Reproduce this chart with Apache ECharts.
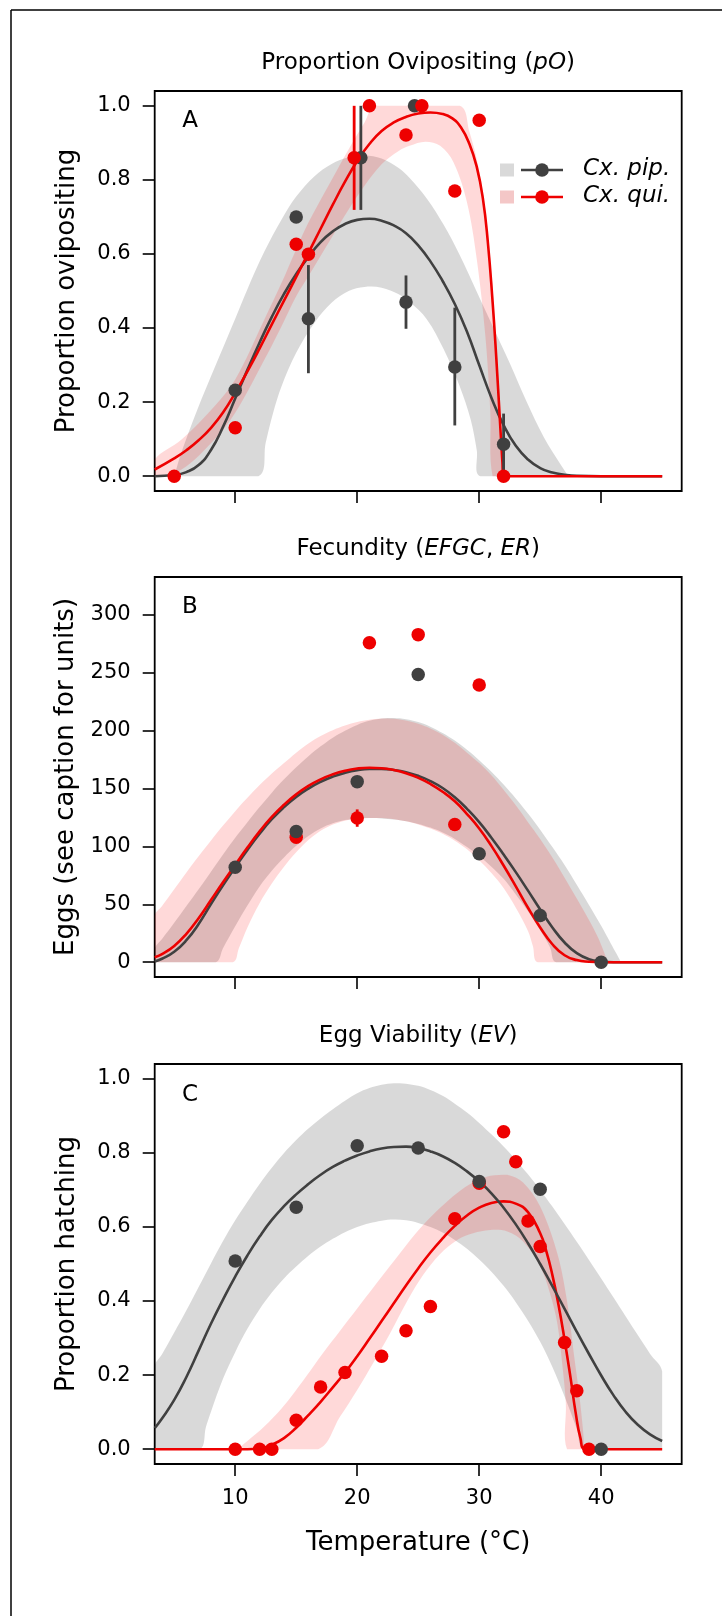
<!DOCTYPE html>
<html>
<head>
<meta charset="utf-8">
<script src="https://cdn.jsdelivr.net/npm/echarts@6/dist/echarts.min.js"></script>
<style>
  html, body { margin: 0; padding: 0; background: #ffffff; }
  #chart { width: 722px; height: 1616px; }
</style>
</head>
<body>
<div id="chart"></div>
<script>
// Thermal performance of two Culex species: oviposition, fecundity, egg viability.

// ---- axis ticks ----
const xTicks = [10, 20, 30, 40];
const propTicks = [0, 0.2, 0.4, 0.6, 0.8, 1];
const eggTicks = [0, 50, 100, 150, 200, 250, 300];

// ---- Panel A: proportion ovipositing ----
const pipObsA = [[10,0.232],[15,0.70],[16,0.425],[20.3,0.86],[24,0.47],[24.7,1.0],[28,0.295],[32,0.086]];
const quiObsA = [[5,0],[10,0.131],[15,0.626],[16,0.599],[19.75,0.86],[21,1.0],[24,0.921],[25.3,1.0],[28,0.77],[30,0.961],[32,0]];
const pipErrA = [[16,0.278,0.570],[20.3,0.719,1.0],[24,0.398,0.542],[28,0.137,0.455],[32,0,0.169]];
const quiErrA = [[19.75,0.719,1.0]];
const pipFitA = [[3.4,0],[5,0.003],[6,0.011],[7,0.03],[8,0.07],[9,0.133],[10,0.21],[11,0.287],[12,0.361],[13,0.43],[14,0.492],[15,0.546],[16,0.592],[17,0.632],[18,0.661],[19,0.681],[20,0.692],[21,0.695],[22,0.69],[23,0.677],[24,0.656],[25,0.623],[26,0.58],[27,0.527],[28,0.465],[29,0.39],[30,0.3],[31,0.212],[32,0.138],[33,0.082],[34,0.045],[35,0.022],[36,0.01],[37,0.004],[38,0.001],[40,0],[45,0]];
const quiFitA = [[3.4,0.018],[5,0.048],[6,0.07],[7,0.097],[8,0.13],[9,0.172],[10,0.225],[11,0.283],[12,0.345],[13,0.41],[14,0.474],[15,0.538],[16,0.603],[17,0.668],[18,0.733],[19,0.795],[20,0.851],[21,0.897],[22,0.932],[23,0.955],[24,0.97],[25,0.979],[26,0.982],[27,0.978],[27.8,0.966],[28.5,0.942],[29.2,0.897],[29.8,0.835],[30.3,0.75],[30.7,0.635],[31.1,0.47],[31.4,0.32],[31.7,0.15],[31.9,0.04],[32,0],[45,0]];
const pipBandA_hi = [[5,0],[5.6,0.065],[6.9,0.18],[8.3,0.292],[10,0.425],[11,0.505],[12.4,0.607],[13.8,0.693],[15,0.755],[16.5,0.81],[17.9,0.843],[19.3,0.861],[20.6,0.866],[22,0.858],[23.4,0.832],[24.3,0.805],[25.7,0.75],[27.1,0.678],[28.4,0.597],[29.8,0.498],[31.2,0.398],[32.6,0.298],[33.9,0.2],[35.3,0.105],[36.7,0.03],[37.3,0]];
const pipBandA_lo = [[5,0],[11.9,0],[12.5,0.09],[13.1,0.17],[13.8,0.243],[15,0.333],[16.5,0.414],[17.9,0.468],[19.3,0.50],[20.6,0.511],[22,0.509],[23.4,0.491],[24.3,0.47],[25.7,0.424],[27.1,0.342],[28.4,0.243],[29.3,0.153],[29.8,0.07],[30.1,0],[37.3,0]];
const quiBandA_hi = [[3.4,0.045],[5.6,0.099],[8.3,0.189],[10,0.261],[12.4,0.424],[13.8,0.522],[15,0.613],[16,0.685],[17.9,0.80],[19.3,0.883],[20.6,0.955],[21.5,1.0],[28.4,1.0],[29.2,0.93],[29.9,0.84],[30.5,0.72],[31,0.55],[31.45,0.33],[31.8,0.12],[32.05,0]];
const quiBandA_lo = [[3.4,0],[5.6,0.018],[8.3,0.099],[10,0.171],[12.4,0.315],[13.8,0.405],[15,0.486],[16,0.54],[17.9,0.644],[19.3,0.72],[20.6,0.784],[22,0.842],[23.4,0.878],[24.3,0.892],[25.6,0.903],[26.8,0.892],[27.9,0.847],[29,0.739],[29.8,0.586],[30.5,0.38],[30.9,0.18],[31.1,0]];

// ---- Panel B: fecundity ----
const pipObsB = [[10,82],[15,113],[20,156],[25,248.5],[30,93.7],[35,40.4],[40,0]];
const quiObsB = [[15,108],[20,124.6],[21,276],[25,283],[28,119],[30,239.4]];
const quiErrB = [[20,117,132]];
const pipFitB = [[3.4,0.6],[4,3],[5,9],[6,19],[7,33],[8,50],[9,66.5],[10,82],[11,97],[12,111],[13,123.5],[14,134],[15,142.8],[16,150],[17,155.8],[18,160.3],[19,163.6],[20,165.8],[21,166.9],[22,167],[23,166.1],[24,164.2],[25,161],[26,156.5],[27,150.5],[28,142.5],[29,132.5],[30,121],[31,107.5],[32,93],[33,77.8],[34,61.8],[35,45.5],[36,30],[37,17],[38,7.8],[39,2.6],[40,0.6],[41,0],[45,0]];
const quiFitB = [[3.4,4.3],[4,7],[5,14],[6,24.5],[7,38],[8,53.5],[9,69],[10,84],[11,99],[12,113],[13,125.5],[14,136],[15,145],[16,152.3],[17,158],[18,162.3],[19,165.4],[20,167.3],[21,168],[22,167.6],[23,166],[24,163.3],[25,159.3],[26,154],[27,147.3],[28,139],[29,128],[30,115.5],[31,100.5],[32,83.5],[33,65.5],[34,47],[35,30],[36,15.5],[37,6],[38,1.8],[39,0.4],[40,0],[45,0]];
const pipBandB_hi = [[3.4,12],[4,20],[5,34],[6,48.5],[7,63],[8,78],[9,93],[10,107.5],[11,121],[12,134],[13,146.5],[14,158],[15,168.5],[16,178],[17,186.5],[18,194],[19,200],[20,205],[21,208.5],[22,210.5],[23,211],[24,210],[25,207.5],[26,203.5],[27,198],[28,191.5],[29,183.5],[30,174.5],[31,164.5],[32,153.5],[33,141.5],[34,128.5],[35,114.5],[36,99.5],[37,84],[38,67],[39,49.5],[40,31.5],[40.8,16],[41.6,0]];
const pipBandB_lo = [[3.4,0],[8.4,0],[9,12],[10,31],[11,49],[12,65.5],[13,79],[14,90.5],[15,100.5],[16,109],[17,115.5],[18,120],[19,122.8],[20,124],[21,124.5],[22,124.2],[23,123.3],[24,121.8],[25,119.5],[26,116.3],[27,112],[28,106.5],[29,99.5],[30,91.5],[31,82.5],[32,72],[33,58.5],[34,44],[35,27.5],[35.8,13],[36.3,0]];
const quiBandB_hi = [[3.4,40],[4,48.5],[5,63],[6,77.5],[7,91.5],[8,105],[9,118],[10,130.5],[11,142],[12,153],[13,163],[14,172],[15,181],[16,189],[17,195.5],[18,200.5],[19,204.5],[20,207.5],[21,209.5],[22,210.5],[23,210.3],[24,208.8],[25,206],[26,202],[27,196.5],[28,189.5],[29,181],[30,172],[31,161.5],[32,149],[33,135.5],[34,121],[35,106.5],[36,90.5],[37,73],[38,55],[39,36.5],[39.8,20],[40.5,0]];
const quiBandB_lo = [[3.4,0],[9.8,0],[10.3,12],[11,30],[12,51],[13,68],[14,82.5],[15,95],[16,105.5],[17,113.5],[18,119],[19,122.3],[20,124],[21,124.6],[22,124.5],[23,123.5],[24,121.7],[25,119],[26,115.5],[27,111],[28,105],[29,97.5],[30,88],[31,77],[32,64],[33,47],[34,27],[34.4,14],[34.8,0]];

// ---- Panel C: egg viability ----
const pipObsC = [[10,0.508],[15,0.653],[20,0.819],[25,0.813],[30,0.723],[35,0.702],[40,0]];
const quiObsC = [[10,0],[12,0],[13,0],[15,0.078],[17,0.168],[19,0.207],[22,0.251],[24,0.32],[26,0.385],[28,0.622],[30,0.718],[32,0.857],[33,0.776],[34,0.616],[35,0.547],[37,0.288],[38,0.158],[39,0]];
const pipFitC = [[3.4,0.057],[4,0.083],[5,0.133],[6,0.195],[7,0.266],[8,0.338],[9,0.404],[10,0.466],[11,0.523],[12,0.574],[13,0.619],[14,0.656],[15,0.688],[16,0.716],[17,0.741],[18,0.762],[19,0.779],[20,0.793],[21,0.804],[22,0.812],[23,0.816],[24,0.817],[25,0.813],[26,0.804],[27,0.791],[28,0.773],[29,0.75],[30,0.723],[31,0.691],[32,0.652],[33,0.607],[34,0.556],[35,0.5],[36,0.44],[37,0.379],[38,0.317],[39,0.257],[40,0.199],[41,0.146],[42,0.101],[43,0.066],[44,0.04],[45,0.022]];
const quiFitC = [[3.4,0],[11,0],[12,0.002],[13,0.012],[14,0.03],[15,0.058],[16,0.092],[17,0.128],[18,0.167],[19,0.207],[20,0.251],[21,0.298],[22,0.346],[23,0.394],[24,0.442],[25,0.488],[26,0.531],[27,0.569],[28,0.603],[29,0.631],[30,0.652],[31,0.665],[32,0.669],[33,0.663],[34,0.64],[35,0.583],[35.5,0.535],[36,0.47],[36.5,0.39],[37,0.295],[37.5,0.19],[37.9,0.1],[38.3,0.03],[38.7,0],[45,0]];
const pipBandC_hi = [[3.4,0.223],[4,0.256],[5,0.315],[6,0.375],[7,0.438],[8,0.501],[9,0.562],[10,0.618],[11,0.668],[12,0.716],[13,0.76],[14,0.8],[15,0.835],[16,0.866],[17,0.893],[18,0.918],[19,0.941],[20,0.961],[21,0.975],[22,0.984],[23,0.988],[24,0.987],[25,0.981],[26,0.97],[27,0.954],[28,0.933],[29,0.909],[30,0.881],[31,0.85],[32,0.817],[33,0.781],[34,0.742],[35,0.7],[36,0.655],[37,0.608],[38,0.56],[39,0.511],[40,0.461],[41,0.41],[42,0.359],[43,0.308],[44,0.258],[45,0.21]];
const pipBandC_lo = [[3.4,0],[7.1,0],[7.6,0.06],[8,0.1],[9,0.19],[10,0.262],[11,0.325],[12,0.378],[13,0.423],[14,0.461],[15,0.493],[16,0.522],[17,0.547],[18,0.568],[19,0.586],[20,0.6],[21,0.61],[22,0.617],[23,0.62],[24,0.618],[25,0.611],[26,0.6],[27,0.585],[28,0.565],[29,0.541],[30,0.512],[31,0.479],[32,0.441],[33,0.397],[34,0.347],[35,0.29],[36,0.222],[37,0.142],[38,0.055],[38.6,0],[45,0]];
const quiBandC_hi = [[10.2,0],[11,0.022],[12.4,0.062],[13.8,0.11],[14.5,0.138],[15.9,0.2],[17.2,0.26],[18.6,0.32],[20,0.38],[21.4,0.44],[22.7,0.495],[24,0.55],[25.4,0.605],[26.8,0.652],[28.2,0.692],[29.5,0.72],[30.9,0.738],[32.3,0.741],[33.6,0.72],[35,0.655],[36.4,0.529],[37.2,0.4],[37.75,0.26],[38.3,0.12],[38.6,0]];
const quiBandC_lo = [[10.2,0],[16.8,0],[18.6,0.088],[20,0.16],[21.3,0.232],[22.7,0.313],[24.1,0.4],[25.4,0.47],[26.8,0.527],[28.2,0.565],[29.5,0.583],[30.9,0.592],[32.3,0.588],[33.6,0.561],[35,0.493],[35.8,0.421],[36.4,0.34],[36.8,0.232],[37.1,0.124],[37.2,0]];

// ---- styling ----
const FONT = 'DejaVu Sans';
const INK = '#404040';
const RED = '#ee0000';
const GRAY_FILL = 'rgba(0,0,0,0.15)';
const PINK_FILL = 'rgba(255,0,0,0.15)';
const PLOT_LEFT = 154.7, PLOT_W = 527, PLOT_H = 400;
const PANEL_TOPS = [91, 577, 1064];
const PLOT_CX = PLOT_LEFT + PLOT_W / 2;

const chart = echarts.init(document.getElementById('chart'), null, { renderer: 'canvas' });

// Credible band: upper edge left->right, then lower edge right->left, as one filled polygon.
function bandSeries(g, upper, lower, fill, z) {
  return {
    type: 'custom', xAxisIndex: g, yAxisIndex: g, clip: true, silent: true, z: z,
    data: [upper[0]],
    renderItem: function (params, api) {
      const pts = upper.concat(lower.slice().reverse()).map(p => api.coord(p));
      return { type: 'polygon',
               shape: { points: pts, smooth: 0.35, smoothConstraint: [pts[0], pts[0]] },
               style: { fill: fill, stroke: null } };
    }
  };
}
function fitSeries(g, data, color, z) {
  return { type: 'line', xAxisIndex: g, yAxisIndex: g, data: data, showSymbol: false,
           smooth: 0.5, clip: true, silent: true, z: z,
           lineStyle: { color: color, width: 2.6 } };
}
function errSeries(g, bars, color, z) {
  return {
    type: 'custom', xAxisIndex: g, yAxisIndex: g, clip: true, silent: true, z: z, data: bars,
    renderItem: function (params, api) {
      const a = api.coord([api.value(0), api.value(1)]);
      const b = api.coord([api.value(0), api.value(2)]);
      return { type: 'line', shape: { x1: a[0], y1: a[1], x2: b[0], y2: b[1] },
               style: { stroke: color, lineWidth: 2.8 } };
    }
  };
}
function pointSeries(g, data, color, z) {
  return { type: 'scatter', xAxisIndex: g, yAxisIndex: g, data: data, symbolSize: 13.5,
           silent: true, z: z, itemStyle: { color: color, opacity: 1 } };
}

const tickLine = { color: '#000', width: 1.6 };
const labelFont = { color: '#000', fontFamily: FONT, fontSize: 21 };

function yAxisFor(g, min, max, ticks, fmt, name) {
  return {
    type: 'value', gridIndex: g, min: min, max: max,
    axisLine: { show: false, onZero: false }, splitLine: { show: false },
    axisTick: { show: true, customValues: ticks, length: 12, lineStyle: tickLine },
    axisLabel: Object.assign({ customValues: ticks, margin: 24, formatter: fmt }, labelFont),
    name: name, nameLocation: 'middle', nameGap: 74,
    nameTextStyle: { color: '#000', fontFamily: FONT, fontSize: 26 }
  };
}

const richTitle = {
  n: { fontFamily: FONT, fontSize: 23, color: '#000' },
  i: { fontFamily: FONT, fontSize: 23, fontStyle: 'italic', color: '#000' }
};
function titleText(y, text) {
  return { type: 'text', x: PLOT_CX, y: y, silent: true,
           style: { text: text, rich: richTitle, align: 'center', verticalAlign: 'middle' } };
}
function panelLetter(y, t) {
  return { type: 'text', x: 190, y: y, silent: true,
           style: { text: t, fontFamily: FONT, fontSize: 23, fill: '#000', align: 'center', verticalAlign: 'middle' } };
}
function legendRow(y, boxFill, color, label) {
  return [
    { type: 'rect', shape: { x: 500, y: y - 6.5, width: 14, height: 13 }, style: { fill: boxFill }, silent: true },
    { type: 'line', shape: { x1: 521, y1: y, x2: 563, y2: y }, style: { stroke: color, lineWidth: 2.6 }, silent: true },
    { type: 'circle', shape: { cx: 542, cy: y, r: 6.8 }, style: { fill: color }, silent: true },
    { type: 'text', x: 583, y: y - 1, silent: true,
      style: { text: label, fontFamily: FONT, fontStyle: 'italic', fontSize: 23, fill: '#000',
               align: 'left', verticalAlign: 'middle' } }
  ];
}

const fmt1 = v => v.toFixed(1);
const fmt0 = v => String(v);

const option = {
  animation: false,
  backgroundColor: '#ffffff',
  grid: PANEL_TOPS.map(t => ({
    left: PLOT_LEFT, top: t, width: PLOT_W, height: PLOT_H, containLabel: false,
    outerBoundsMode: 'none',
    show: true, borderColor: '#000', borderWidth: 1.8, backgroundColor: 'transparent'
  })),
  xAxis: [0, 1, 2].map(g => ({
    type: 'value', gridIndex: g, min: 3.4, max: 46.6,
    axisLine: { show: false, onZero: false }, splitLine: { show: false },
    axisTick: { show: true, customValues: xTicks, length: 12, lineStyle: tickLine },
    axisLabel: Object.assign({ show: g === 2, customValues: xTicks, margin: 24 }, labelFont)
  })),
  yAxis: [
    yAxisFor(0, -0.04, 1.04, propTicks, fmt1, 'Proportion ovipositing'),
    yAxisFor(1, -12.8, 332.8, eggTicks, fmt0, 'Eggs (see caption for units)'),
    yAxisFor(2, -0.04, 1.04, propTicks, fmt1, 'Proportion hatching')
  ],
  series: [
    // Panel A
    bandSeries(0, pipBandA_hi, pipBandA_lo, GRAY_FILL, 1),
    bandSeries(0, quiBandA_hi, quiBandA_lo, PINK_FILL, 2),
    fitSeries(0, pipFitA, INK, 3),
    fitSeries(0, quiFitA, RED, 4),
    errSeries(0, pipErrA, INK, 5),
    errSeries(0, quiErrA, RED, 5),
    pointSeries(0, pipObsA, INK, 6),
    pointSeries(0, quiObsA, RED, 7),
    // Panel B
    bandSeries(1, pipBandB_hi, pipBandB_lo, GRAY_FILL, 1),
    bandSeries(1, quiBandB_hi, quiBandB_lo, PINK_FILL, 2),
    fitSeries(1, pipFitB, INK, 3),
    fitSeries(1, quiFitB, RED, 4),
    errSeries(1, quiErrB, RED, 5),
    pointSeries(1, quiObsB, RED, 6),
    pointSeries(1, pipObsB, INK, 7),
    // Panel C
    bandSeries(2, pipBandC_hi, pipBandC_lo, GRAY_FILL, 1),
    bandSeries(2, quiBandC_hi, quiBandC_lo, PINK_FILL, 2),
    fitSeries(2, quiFitC, RED, 3),
    fitSeries(2, pipFitC, INK, 4),
    pointSeries(2, quiObsC, RED, 6),
    pointSeries(2, pipObsC, INK, 7)
  ],
  graphic: [
    // figure frame
    { type: 'line', shape: { x1: 11, y1: 10, x2: 722, y2: 10 }, style: { stroke: '#000', lineWidth: 1.5 }, silent: true },
    { type: 'line', shape: { x1: 11, y1: 10, x2: 11, y2: 1616 }, style: { stroke: '#000', lineWidth: 1.5 }, silent: true },
    titleText(63.5, '{n|Proportion Ovipositing (}{i|pO}{n|)}'),
    titleText(549.5, '{n|Fecundity (}{i|EFGC}{n|, }{i|ER}{n|)}'),
    titleText(1036.5, '{n|Egg Viability (}{i|EV}{n|)}'),
    panelLetter(121, 'A'),
    panelLetter(607, 'B'),
    panelLetter(1095, 'C'),
    ...legendRow(170, '#d9d9d9', INK, 'Cx. pip.'),
    ...legendRow(197, '#f4c7c7', RED, 'Cx. qui.'),
    { type: 'text', x: PLOT_CX, y: 1543, silent: true,
      style: { text: 'Temperature (°C)', fontFamily: FONT, fontSize: 26, fill: '#000',
               align: 'center', verticalAlign: 'middle' } }
  ]
};

chart.setOption(option);
</script>
</body>
</html>
